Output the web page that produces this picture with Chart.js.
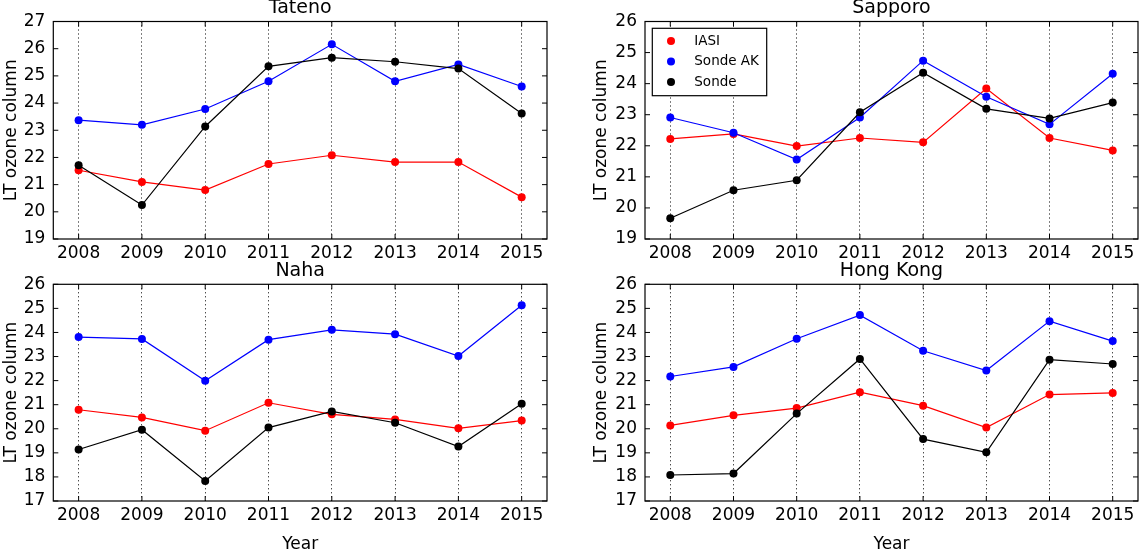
<!DOCTYPE html>
<html>
<head>
<meta charset="utf-8">
<script src="https://cdn.jsdelivr.net/npm/chart.js@4.4.0/dist/chart.umd.min.js"></script>
<style>
    html, body { margin: 0; padding: 0; background: #fff; width: 1140px; height: 550px; overflow: hidden; position: relative; }
    canvas { position: absolute; }
</style>
</head>
<body>
<canvas id="c-tateno"></canvas>
<canvas id="c-sapporo"></canvas>
<canvas id="c-naha"></canvas>
<canvas id="c-hongkong"></canvas>
<script>
// Datos
const years = [2008, 2009, 2010, 2011, 2012, 2013, 2014, 2015];
const seriesNames = ["IASI", "Sonde AK", "Sonde"];
const seriesColors = ["#ff0000", "#0000ff", "#000000"];

const tatenoIasi    = [21.53, 21.10, 20.80, 21.76, 22.08, 21.83, 21.83, 20.54];
const tatenoSondeAk = [23.37, 23.20, 23.78, 24.80, 26.16, 24.80, 25.42, 24.61];
const tatenoSonde   = [21.71, 20.25, 23.14, 25.35, 25.67, 25.52, 25.27, 23.62];

const sapporoIasi    = [22.22, 22.38, 21.99, 22.25, 22.11, 23.84, 22.25, 21.85];
const sapporoSondeAk = [22.91, 22.42, 21.56, 22.91, 24.74, 23.58, 22.69, 24.32];
const sapporoSonde   = [19.67, 20.57, 20.89, 23.08, 24.35, 23.19, 22.88, 23.39];

const nahaIasi    = [20.79, 20.47, 19.92, 21.08, 20.60, 20.39, 20.02, 20.34];
const nahaSondeAk = [23.81, 23.73, 21.99, 23.70, 24.11, 23.93, 23.02, 25.13];
const nahaSonde   = [19.14, 19.96, 17.83, 20.05, 20.72, 20.25, 19.26, 21.04];

const hongkongIasi    = [20.14, 20.56, 20.86, 21.52, 20.96, 20.05, 21.42, 21.49];
const hongkongSondeAk = [22.17, 22.57, 23.74, 24.72, 23.24, 22.42, 24.47, 23.64];
const hongkongSonde   = [18.08, 18.14, 20.63, 22.90, 19.57, 19.02, 22.87, 22.69];

const yTicksTateno  = [19, 20, 21, 22, 23, 24, 25, 26, 27];
const yTicksSapporo = [19, 20, 21, 22, 23, 24, 25, 26];
const yTicksSouth   = [17, 18, 19, 20, 21, 22, 23, 24, 25, 26];

const FONT = '"DejaVu Sans", sans-serif';

// Marco con ticks hacia dentro + leyenda interior (estilo matplotlib)
const framePlugin = {
    id: 'frame',
    afterDraw(chart, args, opts) {
        const { ctx, chartArea: a, scales: { x, y } } = chart;
        ctx.save();
        ctx.strokeStyle = '#000';
        ctx.lineWidth = 1;
        ctx.beginPath();
        y.ticks.forEach(t => {
            const py = y.getPixelForValue(t.value);
            ctx.moveTo(a.left, py); ctx.lineTo(a.left + 5, py);
            ctx.moveTo(a.right, py); ctx.lineTo(a.right - 5, py);
        });
        x.ticks.forEach(t => {
            const px = x.getPixelForValue(t.value);
            ctx.moveTo(px, a.top); ctx.lineTo(px, a.top + 5);
            ctx.moveTo(px, a.bottom); ctx.lineTo(px, a.bottom - 5);
        });
        ctx.stroke();
        ctx.lineWidth = 1.2;
        ctx.strokeRect(a.left, a.top, a.right - a.left, a.bottom - a.top);

        if (opts.legend) {
            const bx = a.left + 7.3, by = a.top + 6.8, bw = 114.4, bh = 67.4;
            ctx.fillStyle = '#fff';
            ctx.fillRect(bx, by, bw, bh);
            ctx.lineWidth = 1.2;
            ctx.strokeRect(bx, by, bw, bh);
            ctx.font = '13.5px ' + FONT;
            ctx.textBaseline = 'middle';
            ctx.textAlign = 'left';
            chart.data.datasets.forEach((ds, i) => {
                const cy = by + 12.7 + i * 20.5;
                ctx.fillStyle = ds.borderColor;
                ctx.beginPath();
                ctx.arc(bx + 18.7, cy, 4, 0, Math.PI * 2);
                ctx.fill();
                ctx.fillStyle = '#000';
                ctx.fillText(ds.label, bx + 42, cy);
            });
        }
        ctx.restore();
    }
};

const panels = [
    { id: 'c-tateno', title: 'Tateno', series: [tatenoIasi, tatenoSondeAk, tatenoSonde], yTicks: yTicksTateno,
      legend: false, xTitle: false, left: 1, top: -3, width: 550, height: 272, yAxisWidth: 52.3, xAxisHeight: 30, padRight: 3.5, titleGap: 1.7 },
    { id: 'c-sapporo', title: 'Sapporo', series: [sapporoIasi, sapporoSondeAk, sapporoSonde], yTicks: yTicksSapporo,
      legend: true, xTitle: false, left: 591, top: -3, width: 551, height: 272, yAxisWidth: 54, xAxisHeight: 30, padRight: 2.5, titleGap: 1.7 },
    { id: 'c-naha', title: 'Naha', series: [nahaIasi, nahaSondeAk, nahaSonde], yTicks: yTicksSouth,
      legend: false, xTitle: true, left: 1, top: 260, width: 550, height: 295, yAxisWidth: 52.3, xAxisHeight: 54, padRight: 3.5, titleGap: 1.5 },
    { id: 'c-hongkong', title: 'Hong Kong', series: [hongkongIasi, hongkongSondeAk, hongkongSonde], yTicks: yTicksSouth,
      legend: false, xTitle: true, left: 591, top: 260, width: 551, height: 295, yAxisWidth: 54, xAxisHeight: 54, padRight: 2.5, titleGap: 1.5 }
];

function buildPanel(p) {
    const canvas = document.getElementById(p.id);
    canvas.width = p.width;
    canvas.height = p.height;
    canvas.style.left = p.left + 'px';
    canvas.style.top = p.top + 'px';
    canvas.style.width = p.width + 'px';
    canvas.style.height = p.height + 'px';

    const datasets = p.series.map((vals, i) => ({
        label: seriesNames[i],
        data: years.map((yr, k) => ({ x: yr, y: vals[k] })),
        borderColor: seriesColors[i],
        backgroundColor: seriesColors[i],
        pointBackgroundColor: seriesColors[i],
        pointBorderColor: seriesColors[i],
        pointRadius: 4,
        pointBorderWidth: 0,
        borderWidth: 1.2,
        tension: 0,
        order: 3 - i
    }));

    const tickFont = { family: FONT, size: 17 };

    new Chart(canvas, {
        type: 'line',
        data: { datasets: datasets },
        plugins: [framePlugin],
        options: {
            responsive: false,
            animation: false,
            devicePixelRatio: 1,
            layout: { padding: { left: 0, right: p.padRight, top: 0, bottom: 0 } },
            plugins: {
                legend: { display: false },
                tooltip: { enabled: false },
                title: {
                    display: true, text: p.title, color: '#000', fullSize: false,
                    font: { family: FONT, size: 19, weight: 'normal', lineHeight: 1.2 },
                    padding: { top: 0, bottom: p.titleGap }
                },
                frame: { legend: p.legend }
            },
            scales: {
                x: {
                    type: 'linear', min: 2007.6, max: 2015.4,
                    afterBuildTicks: ax => { ax.ticks = years.map(v => ({ value: v })); },
                    afterFit: ax => { ax.height = p.xAxisHeight; },
                    ticks: { color: '#000', font: tickFont, padding: 4, maxRotation: 0, autoSkip: false, callback: v => String(v) },
                    grid: { color: '#000', lineWidth: 1, drawTicks: false },
                    border: { display: false, dash: [1, 3] },
                    title: { display: p.xTitle, text: 'Year', color: '#000', font: tickFont, padding: 0 }
                },
                y: {
                    type: 'linear', min: p.yTicks[0], max: p.yTicks[p.yTicks.length - 1],
                    afterBuildTicks: ax => { ax.ticks = p.yTicks.map(v => ({ value: v })); },
                    afterFit: ax => { ax.width = p.yAxisWidth; },
                    ticks: { color: '#000', font: tickFont, padding: 8, callback: v => String(v) },
                    grid: { display: false, drawTicks: false },
                    border: { display: false },
                    title: { display: true, text: 'LT ozone column', color: '#000', font: tickFont, padding: 0 }
                }
            }
        }
    });
}

panels.forEach(buildPanel);
</script>
</body>
</html>
